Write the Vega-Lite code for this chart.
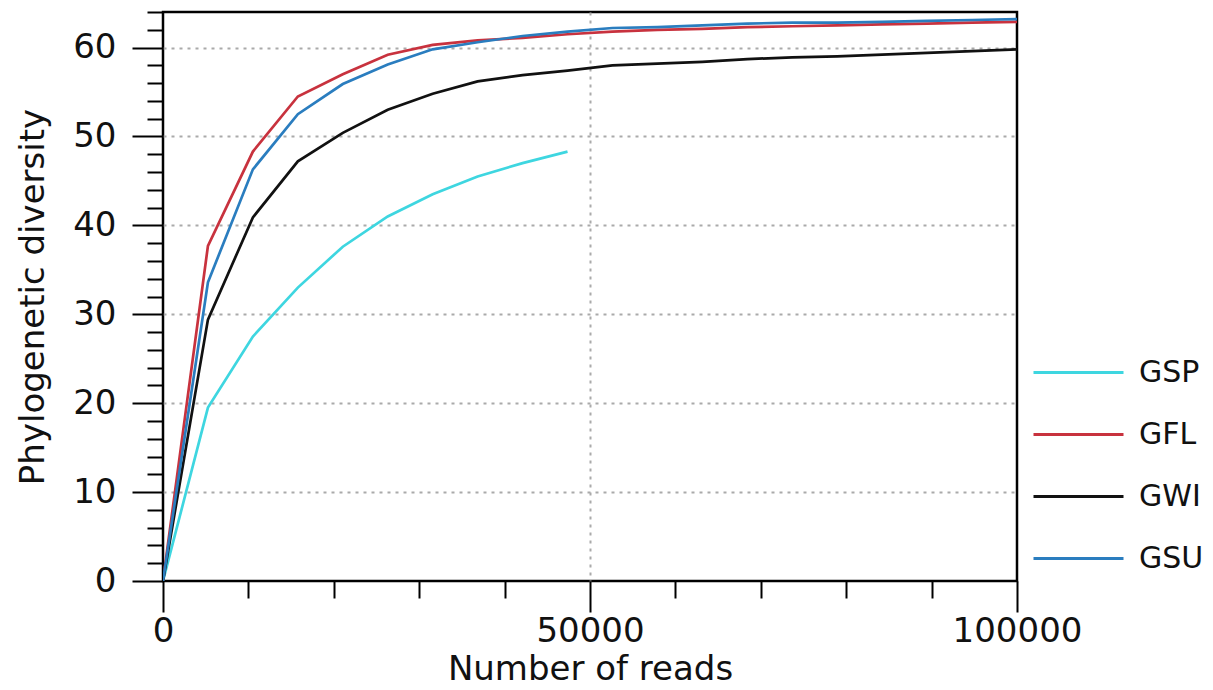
{
  "$schema": "https://vega.github.io/schema/vega-lite/v6.json",
  "autosize": {"type": "none"},
  "padding": {"left": 163, "top": 12, "right": 196, "bottom": 109},
  "width": 854,
  "height": 569,
  "background": "white",
  "config": {
    "view": {"stroke": "black", "strokeWidth": 2.5},
    "font": "DejaVu Sans",
    "axis": {
      "labelFont": "DejaVu Sans",
      "titleFont": "DejaVu Sans",
      "labelColor": "#111",
      "titleColor": "#111",
      "titleFontWeight": "normal",
      "domain": false,
      "tickColor": "black",
      "tickWidth": 2,
      "gridColor": "#aaaaaa",
      "gridDash": [3, 5],
      "gridWidth": 2,
      "labelFlush": false,
      "labelOverlap": false
    }
  },
  "data": {
    "values": [
      {"reads": 0, "pd": 0, "sample": "GSP"},
      {"reads": 5263, "pd": 19.5, "sample": "GSP"},
      {"reads": 10526, "pd": 27.5, "sample": "GSP"},
      {"reads": 15789, "pd": 33.0, "sample": "GSP"},
      {"reads": 21053, "pd": 37.6, "sample": "GSP"},
      {"reads": 26316, "pd": 41.0, "sample": "GSP"},
      {"reads": 31579, "pd": 43.5, "sample": "GSP"},
      {"reads": 36842, "pd": 45.5, "sample": "GSP"},
      {"reads": 42105, "pd": 47.0, "sample": "GSP"},
      {"reads": 47368, "pd": 48.3, "sample": "GSP"},

      {"reads": 0, "pd": 0, "sample": "GFL"},
      {"reads": 5263, "pd": 37.7, "sample": "GFL"},
      {"reads": 10526, "pd": 48.3, "sample": "GFL"},
      {"reads": 15789, "pd": 54.5, "sample": "GFL"},
      {"reads": 21053, "pd": 57.0, "sample": "GFL"},
      {"reads": 26316, "pd": 59.2, "sample": "GFL"},
      {"reads": 31579, "pd": 60.3, "sample": "GFL"},
      {"reads": 36842, "pd": 60.8, "sample": "GFL"},
      {"reads": 42105, "pd": 61.1, "sample": "GFL"},
      {"reads": 47368, "pd": 61.5, "sample": "GFL"},
      {"reads": 52632, "pd": 61.8, "sample": "GFL"},
      {"reads": 57895, "pd": 62.0, "sample": "GFL"},
      {"reads": 63158, "pd": 62.1, "sample": "GFL"},
      {"reads": 68421, "pd": 62.3, "sample": "GFL"},
      {"reads": 73684, "pd": 62.4, "sample": "GFL"},
      {"reads": 78947, "pd": 62.5, "sample": "GFL"},
      {"reads": 84211, "pd": 62.6, "sample": "GFL"},
      {"reads": 89474, "pd": 62.7, "sample": "GFL"},
      {"reads": 94737, "pd": 62.8, "sample": "GFL"},
      {"reads": 100000, "pd": 62.9, "sample": "GFL"},

      {"reads": 0, "pd": 0, "sample": "GWI"},
      {"reads": 5263, "pd": 29.4, "sample": "GWI"},
      {"reads": 10526, "pd": 40.9, "sample": "GWI"},
      {"reads": 15789, "pd": 47.2, "sample": "GWI"},
      {"reads": 21053, "pd": 50.4, "sample": "GWI"},
      {"reads": 26316, "pd": 53.0, "sample": "GWI"},
      {"reads": 31579, "pd": 54.8, "sample": "GWI"},
      {"reads": 36842, "pd": 56.2, "sample": "GWI"},
      {"reads": 42105, "pd": 56.9, "sample": "GWI"},
      {"reads": 47368, "pd": 57.4, "sample": "GWI"},
      {"reads": 52632, "pd": 58.0, "sample": "GWI"},
      {"reads": 57895, "pd": 58.2, "sample": "GWI"},
      {"reads": 63158, "pd": 58.4, "sample": "GWI"},
      {"reads": 68421, "pd": 58.7, "sample": "GWI"},
      {"reads": 73684, "pd": 58.9, "sample": "GWI"},
      {"reads": 78947, "pd": 59.0, "sample": "GWI"},
      {"reads": 84211, "pd": 59.2, "sample": "GWI"},
      {"reads": 89474, "pd": 59.4, "sample": "GWI"},
      {"reads": 94737, "pd": 59.6, "sample": "GWI"},
      {"reads": 100000, "pd": 59.8, "sample": "GWI"},

      {"reads": 0, "pd": 0, "sample": "GSU"},
      {"reads": 5263, "pd": 33.6, "sample": "GSU"},
      {"reads": 10526, "pd": 46.3, "sample": "GSU"},
      {"reads": 15789, "pd": 52.5, "sample": "GSU"},
      {"reads": 21053, "pd": 55.9, "sample": "GSU"},
      {"reads": 26316, "pd": 58.1, "sample": "GSU"},
      {"reads": 31579, "pd": 59.8, "sample": "GSU"},
      {"reads": 36842, "pd": 60.6, "sample": "GSU"},
      {"reads": 42105, "pd": 61.3, "sample": "GSU"},
      {"reads": 47368, "pd": 61.8, "sample": "GSU"},
      {"reads": 52632, "pd": 62.2, "sample": "GSU"},
      {"reads": 57895, "pd": 62.3, "sample": "GSU"},
      {"reads": 63158, "pd": 62.5, "sample": "GSU"},
      {"reads": 68421, "pd": 62.7, "sample": "GSU"},
      {"reads": 73684, "pd": 62.8, "sample": "GSU"},
      {"reads": 78947, "pd": 62.8, "sample": "GSU"},
      {"reads": 84211, "pd": 62.9, "sample": "GSU"},
      {"reads": 89474, "pd": 63.0, "sample": "GSU"},
      {"reads": 94737, "pd": 63.1, "sample": "GSU"},
      {"reads": 100000, "pd": 63.2, "sample": "GSU"}
    ]
  },
  "mark": {"type": "line", "strokeWidth": 2.7, "clip": true},
  "encoding": {
    "x": {
      "field": "reads",
      "type": "quantitative",
      "scale": {"domain": [0, 100000], "nice": false, "zero": false},
      "axis": {
        "title": "Number of reads",
        "values": [0, 10000, 20000, 30000, 40000, 50000, 60000, 70000, 80000, 90000, 100000],
        "format": "d",
        "labelExpr": "datum.value % 50000 === 0 ? datum.label : ''",
        "tickSize": {"condition": {"test": "datum.value % 50000 === 0", "value": 31}, "value": 17},
        "gridOpacity": {"condition": {"test": "datum.value === 50000", "value": 1}, "value": 0},
        "labelFontSize": 34,
        "labelPadding": 2,
        "titleFontSize": 34,
        "titlePadding": 4
      }
    },
    "y": {
      "field": "pd",
      "type": "quantitative",
      "scale": {"domain": [0, 64], "nice": false},
      "axis": {
        "title": "Phylogenetic diversity",
        "values": [0, 2, 4, 6, 8, 10, 12, 14, 16, 18, 20, 22, 24, 26, 28, 30, 32, 34, 36, 38, 40, 42, 44, 46, 48, 50, 52, 54, 56, 58, 60, 62, 64],
        "labelExpr": "datum.value % 10 === 0 ? datum.label : ''",
        "tickSize": {"condition": {"test": "datum.value % 10 === 0", "value": 31}, "value": 16},
        "gridOpacity": {"condition": {"test": "datum.value % 10 === 0 && datum.value > 0", "value": 1}, "value": 0},
        "labelFontSize": 34,
        "labelPadding": 16,
        "titleFontSize": 34,
        "titlePadding": 22
      }
    },
    "color": {
      "field": "sample",
      "type": "nominal",
      "scale": {"domain": ["GSP", "GFL", "GWI", "GSU"], "range": ["#3ed6e0", "#c8323e", "#111111", "#2a7dbf"]},
      "legend": {
        "title": null,
        "orient": "none",
        "legendX": 869,
        "legendY": 314,
        "symbolType": "stroke",
        "symbolSize": 8100,
        "symbolStrokeWidth": 3,
        "labelFontSize": 30,
        "labelFont": "DejaVu Sans",
        "labelColor": "#111",
        "labelOffset": 14,
        "rowPadding": -12
      }
    }
  }
}
